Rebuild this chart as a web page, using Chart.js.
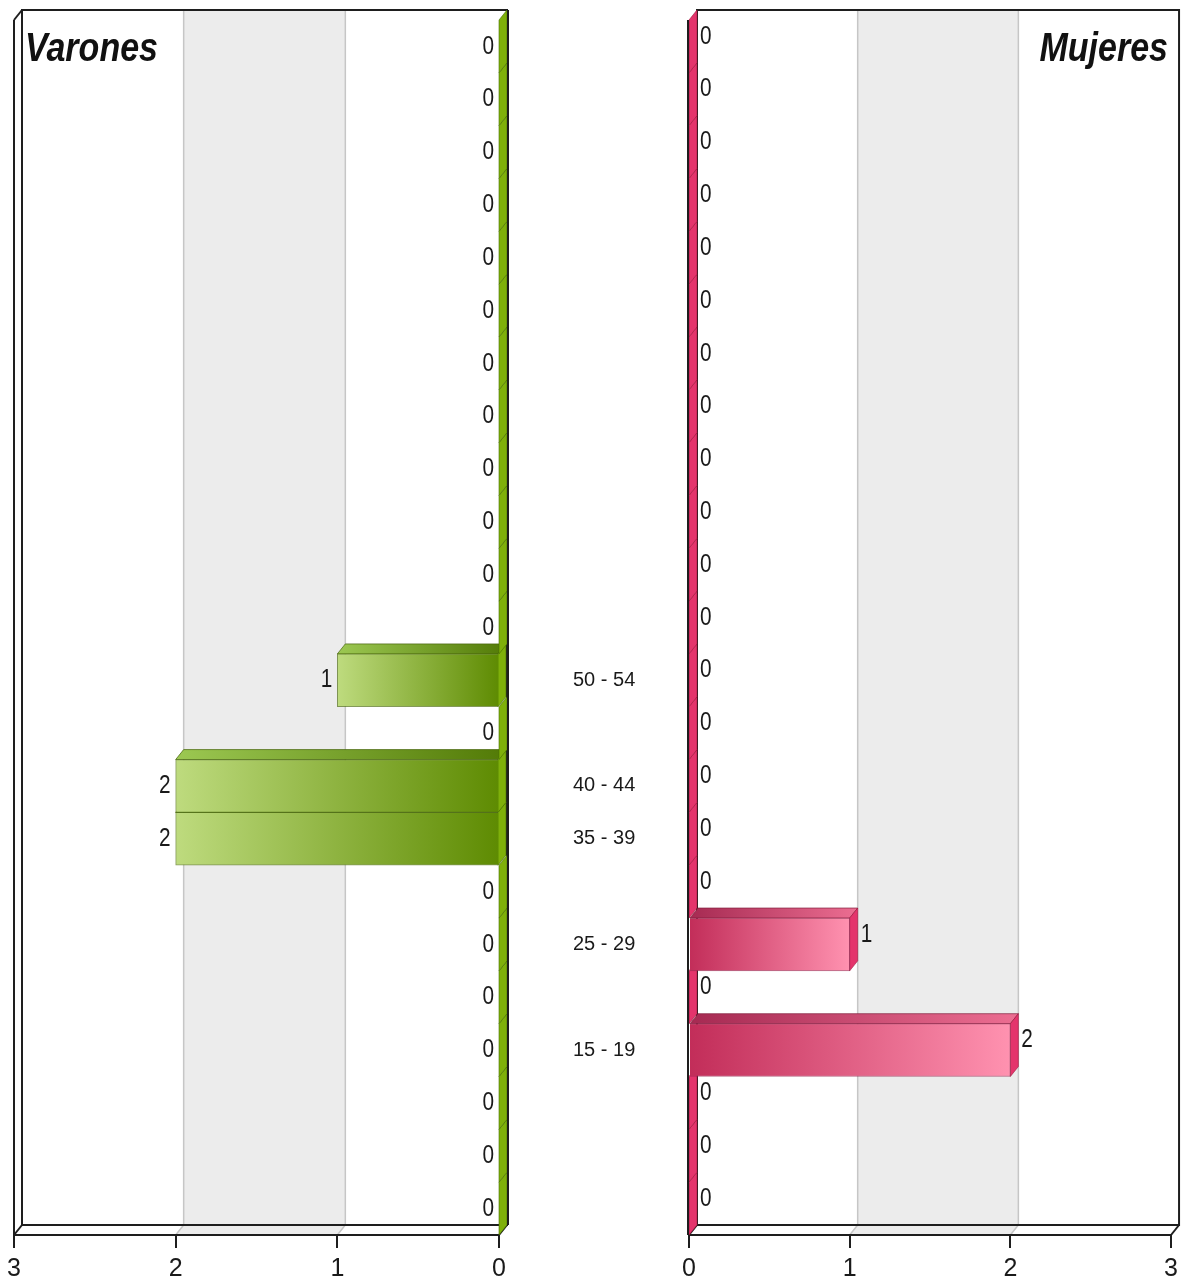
<!DOCTYPE html>
<html>
<head>
    <title>Varones y Mujeres por grupo de edad</title>
    <script src="https://cdn.jsdelivr.net/npm/chart.js"></script>
    <style>
        body { margin: 0; background: #fff; }
        #wrap { position: relative; width: 1184px; height: 1282px; }
        #wrap canvas { position: absolute; left: 0; top: 0; }
    </style>
</head>
<body>
    <div id="wrap">
        <canvas id="varonesChart" width="1184" height="1282"></canvas>
        <canvas id="mujeresChart" width="1184" height="1282"></canvas>
    </div>

    <script>
        // Age groups, oldest at the top
        const edades = ["110 - 114", "105 - 109", "100 - 104", "95 - 99", "90 - 94", "85 - 89",
            "80 - 84", "75 - 79", "70 - 74", "65 - 69", "60 - 64", "55 - 59", "50 - 54",
            "45 - 49", "40 - 44", "35 - 39", "30 - 34", "25 - 29", "20 - 24", "15 - 19",
            "10 - 14", "5 - 9", "0 - 4"];
        const varones = [0, 0, 0, 0, 0, 0, 0, 0, 0, 0, 0, 0, 1, 0, 2, 2, 0, 0, 0, 0, 0, 0, 0];
        const mujeres = [0, 0, 0, 0, 0, 0, 0, 0, 0, 0, 0, 0, 0, 0, 0, 0, 0, 1, 0, 2, 0, 0, 0];
        const ejeValores = [0, 1, 2, 3];

        const FONT = '"Liberation Sans Narrow", "Liberation Sans", Arial, sans-serif';
        Chart.defaults.font.family = FONT;
        Chart.defaults.color = "#1a1a1a";

        // depth of the fake 3D box
        const DX = 8, DY = -10;
        const FRAME = "#1e1e1e";

        function poly(ctx, pts, fill, stroke) {
            ctx.beginPath();
            ctx.moveTo(pts[0][0], pts[0][1]);
            for (let i = 1; i < pts.length; i++) ctx.lineTo(pts[i][0], pts[i][1]);
            ctx.closePath();
            if (fill) { ctx.fillStyle = fill; ctx.fill(); }
            if (stroke) { ctx.strokeStyle = stroke; ctx.lineWidth = 1; ctx.stroke(); }
        }

        function line(ctx, x1, y1, x2, y2) {
            ctx.beginPath();
            ctx.moveTo(x1, y1);
            ctx.lineTo(x2, y2);
            ctx.stroke();
        }

        function gradiente(ctx, x1, x2, c1, c2) {
            const g = ctx.createLinearGradient(x1, 0, x2, 0);
            g.addColorStop(0, c1);
            g.addColorStop(1, c2);
            return g;
        }

        // the original uses a narrow font, so squeeze the text a bit
        function textoEstrecho(ctx, txt, x, y, align, sx) {
            ctx.save();
            ctx.translate(x, y);
            ctx.scale(sx, 1);
            ctx.textAlign = align;
            ctx.fillText(txt, 0, 0);
            ctx.restore();
        }

        const caja3d = {
            id: "caja3d",
            beforeDraw(chart, args, o) {
                const { ctx, chartArea: a, scales: { x } } = chart;
                const bt = a.top + DY, bb = a.bottom + DY;
                ctx.save();
                // back wall
                ctx.fillStyle = "#fff";
                ctx.fillRect(a.left + DX, bt, a.right - a.left, bb - bt);
                // grey band between 1 and 2
                const p1 = x.getPixelForValue(1), p2 = x.getPixelForValue(2);
                const l = Math.min(p1, p2), r = Math.max(p1, p2);
                ctx.fillStyle = "#ececec";
                ctx.fillRect(l + DX, bt, r - l, bb - bt);
                poly(ctx, [[l, a.bottom], [l + DX, bb], [r + DX, bb], [r, a.bottom]], "#ececec");
                // grid lines on the back wall and floor
                ctx.strokeStyle = "#c6c6c6";
                ctx.lineWidth = 1.5;
                [1, 2].forEach(v => {
                    const p = x.getPixelForValue(v);
                    ctx.beginPath();
                    ctx.moveTo(p + DX, bt);
                    ctx.lineTo(p + DX, bb);
                    ctx.lineTo(p, a.bottom);
                    ctx.stroke();
                });
                // frame
                ctx.strokeStyle = FRAME;
                ctx.lineWidth = 2;
                ctx.strokeRect(a.left + DX, bt, a.right - a.left, bb - bt);
                line(ctx, a.left, a.bottom, a.left + DX, bb);
                line(ctx, a.right, a.bottom, a.right + DX, bb);
                if (o.lado === "izq") {
                    line(ctx, a.left, a.top, a.left, a.bottom);
                    line(ctx, a.left, a.top, a.left + DX, bt);
                }
                ctx.restore();
            },
            beforeDatasetsDraw(chart, args, o) {
                const { ctx } = chart;
                const bars = chart.getDatasetMeta(0).data;
                ctx.save();
                // bottom row first so the rows above cover it
                for (let i = bars.length - 1; i >= 0; i--) {
                    const b = bars[i].getProps(["x", "y", "base", "height"], true);
                    const xa = Math.min(b.x, b.base), xb = Math.max(b.x, b.base);
                    const yt = b.y - b.height / 2, yb = b.y + b.height / 2;
                    if (xb - xa > 0.5) {
                        poly(ctx, [[xa, yt], [xa + DX, yt + DY], [xb + DX, yt + DY], [xb, yt]],
                            gradiente(ctx, xa, xb + DX, o.techo[0], o.techo[1]), o.borde);
                    }
                    poly(ctx, [[xb, yt], [xb + DX, yt + DY], [xb + DX, yb + DY], [xb, yb]],
                        o.lateral, o.bordeLateral);
                }
                ctx.restore();
            },
            afterDatasetsDraw(chart, args, o) {
                const { ctx, chartArea: a } = chart;
                const meta = chart.getDatasetMeta(0);
                const datos = chart.data.datasets[0].data;
                ctx.save();
                // frame edges that sit in front of the bar ends
                ctx.strokeStyle = FRAME;
                ctx.lineWidth = 2;
                if (o.lado === "izq") {
                    line(ctx, a.right + DX + 1, a.top + DY, a.right + DX + 1, a.bottom + DY);
                } else {
                    line(ctx, a.left - 1, a.top, a.left - 1, a.bottom);
                }
                ctx.font = "26px " + FONT;
                ctx.fillStyle = "#1a1a1a";
                ctx.textBaseline = "middle";
                meta.data.forEach((bar, i) => {
                    const b = bar.getProps(["x", "y"], true);
                    if (o.lado === "izq") {
                        textoEstrecho(ctx, String(datos[i]), b.x - 5, b.y, "right", 0.8);
                    } else {
                        textoEstrecho(ctx, String(datos[i]), b.x + DX + 3, b.y + DY, "left", 0.8);
                    }
                });
                ctx.restore();
            },
            afterDraw(chart, args, o) {
                const { ctx, chartArea: a } = chart;
                ctx.save();
                ctx.font = "italic bold 41px " + FONT;
                ctx.fillStyle = "#111";
                ctx.textBaseline = "alphabetic";
                if (o.lado === "izq") {
                    textoEstrecho(ctx, o.titulo, a.left + DX + 3, 61, "left", 0.83);
                } else {
                    textoEstrecho(ctx, o.titulo, a.right + DX - 11, 61, "right", 0.83);
                }
                ctx.restore();
            }
        };

        function ejeX(reverse) {
            return {
                reverse: reverse,
                min: ejeValores[0],
                max: ejeValores[ejeValores.length - 1],
                ticks: { stepSize: 1, padding: 6, font: { size: 25 }, color: "#1a1a1a" },
                grid: { drawOnChartArea: false, tickLength: 13, color: FRAME, lineWidth: 2 },
                border: { display: true, color: FRAME, width: 2 },
                afterFit(scale) { scale.height = 47; }
            };
        }

        // Left panel: Varones, axis reversed, age labels on the right side
        new Chart(document.getElementById("varonesChart"), {
            type: "bar",
            data: {
                labels: edades,
                datasets: [{
                    label: "Varones",
                    data: varones,
                    backgroundColor(c) {
                        const chart = c.chart;
                        if (!chart.chartArea) return "#8db03a";
                        const x = chart.scales.x;
                        const x0 = x.getPixelForValue(0), x1 = x.getPixelForValue(c.raw);
                        if (Math.abs(x0 - x1) < 1) return "#8db03a";
                        return gradiente(chart.ctx, Math.min(x0, x1), Math.max(x0, x1), "#bedb7e", "#5e8b02");
                    },
                    borderColor: "rgba(80, 110, 20, 0.7)",
                    borderWidth: 1,
                    barPercentage: 1,
                    categoryPercentage: 1
                }]
            },
            options: {
                indexAxis: "y",
                responsive: false,
                animation: false,
                layout: { padding: { left: 14, right: 500, top: 20, bottom: 0 } },
                scales: {
                    x: ejeX(true),
                    y: {
                        position: "right",
                        grid: { display: false, drawTicks: false },
                        border: { display: false },
                        ticks: {
                            autoSkip: false,
                            crossAlign: "center",
                            padding: 74,
                            font: { size: 20 },
                            color: "#1a1a1a",
                            // only age groups with somebody in them get a label
                            callback(v, i) {
                                return (varones[i] || mujeres[i]) ? edades[i] : "";
                            }
                        },
                        afterFit(scale) {
                            scale.width = 185;
                            scale.paddingTop = 0;
                            scale.paddingBottom = 0;
                        }
                    }
                },
                plugins: {
                    legend: { display: false },
                    tooltip: { enabled: false },
                    caja3d: {
                        lado: "izq",
                        titulo: "Varones",
                        techo: ["#9cc852", "#527a06"],
                        borde: "rgba(70, 100, 10, 0.7)",
                        lateral: "#7fb00a",
                        bordeLateral: "rgba(70, 110, 0, 0.6)"
                    }
                }
            },
            plugins: [caja3d]
        });

        // Right panel: Mujeres
        new Chart(document.getElementById("mujeresChart"), {
            type: "bar",
            data: {
                labels: edades,
                datasets: [{
                    label: "Mujeres",
                    data: mujeres,
                    backgroundColor(c) {
                        const chart = c.chart;
                        if (!chart.chartArea) return "#e0507a";
                        const x = chart.scales.x;
                        const x0 = x.getPixelForValue(0), x1 = x.getPixelForValue(c.raw);
                        if (Math.abs(x0 - x1) < 1) return "#e0507a";
                        return gradiente(chart.ctx, x0, x1, "#c22d59", "#ff92b0");
                    },
                    borderColor: "rgba(150, 40, 80, 0.7)",
                    borderWidth: 1,
                    barPercentage: 1,
                    categoryPercentage: 1
                }]
            },
            options: {
                indexAxis: "y",
                responsive: false,
                animation: false,
                layout: { padding: { left: 689, right: 11, top: 20, bottom: 0 } },
                scales: {
                    x: ejeX(false),
                    y: { display: false }
                },
                plugins: {
                    legend: { display: false },
                    tooltip: { enabled: false },
                    caja3d: {
                        lado: "der",
                        titulo: "Mujeres",
                        techo: ["#a62a52", "#ec6e92"],
                        borde: "rgba(130, 30, 60, 0.7)",
                        lateral: "#e4346c",
                        bordeLateral: "rgba(160, 20, 60, 0.6)"
                    }
                }
            },
            plugins: [caja3d]
        });
    </script>
</body>
</html>
